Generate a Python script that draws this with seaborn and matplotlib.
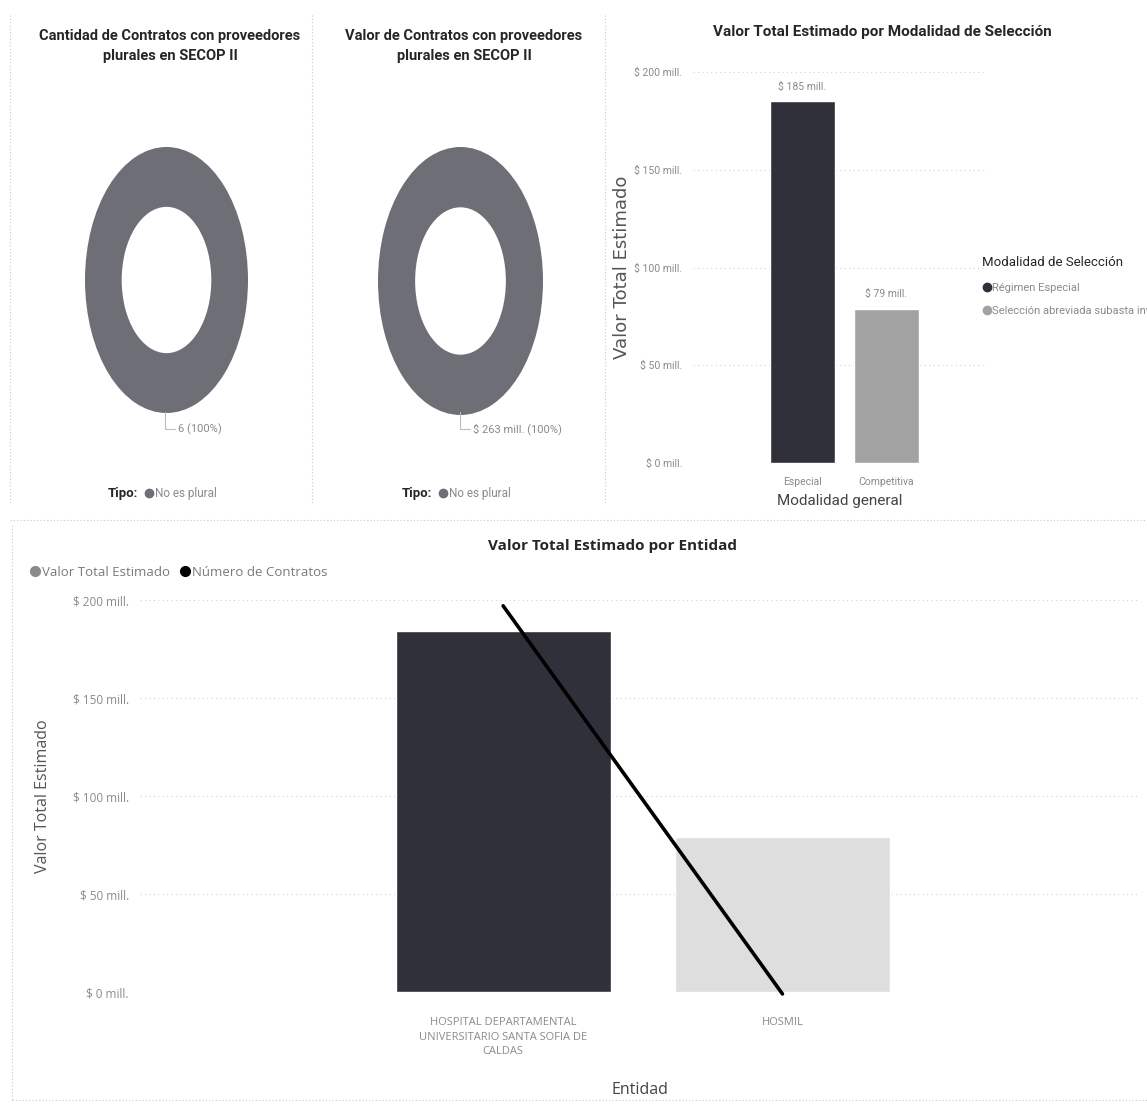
import matplotlib
matplotlib.use('Agg')
import matplotlib.pyplot as plt
import seaborn as sns
import pandas as pd
import numpy as np
import textwrap
from matplotlib.lines import Line2D
from matplotlib.ticker import FuncFormatter

# ---- data ----
tipo = ['No es plural']
cantidad_contratos = [6]
valor_contratos = [263]  # mill.

modalidad_general = ['Especial', 'Competitiva']
modalidad_seleccion = ['Régimen Especial', 'Selección abreviada subasta inversa']
valor_modalidad = [185, 79]  # mill.

entidades = ['HOSPITAL DEPARTAMENTAL UNIVERSITARIO SANTA SOFIA DE CALDAS', 'HOSMIL']
valor_entidad = [184, 79]  # mill.
numero_contratos = [5, 1]

y_ticks = [0, 50, 100, 150, 200]

# ---- style ----
sns.set_theme(style='white')
plt.rcParams['font.family'] = ['Open Sans', 'DejaVu Sans']
NARROW = ['Liberation Sans Narrow', 'Roboto', 'DejaVu Sans']

DONUT = '#6e6e77'
DARK = '#30303b'
MID = '#a2a2a2'
LIGHT = '#dedede'
TXT = '#8a8a8a'
DARKTXT = '#262626'
GRID = '#d2d2d2'

W, H = 1147, 1106
fig = plt.figure(figsize=(W / 100, H / 100), dpi=100)


def fx(x):
    return x / W


def fy(y):
    return 1 - y / H


def px_axes(x0, y0, x1, y1):
    return fig.add_axes([fx(x0), fy(y1), (x1 - x0) / W, (y1 - y0) / H])


def sep(x0, y0, x1, y1):
    fig.add_artist(Line2D([fx(x0), fx(x1)], [fy(y0), fy(y1)], transform=fig.transFigure,
                          color='#c8c8c8', lw=0.8, linestyle=(0, (1, 2))))


mill = FuncFormatter(lambda v, p: f'$ {v:.0f} mill.')

# panel separators
sep(10, 15, 10, 505)
sep(312, 15, 312, 505)
sep(605, 15, 605, 505)
sep(10, 520, 1147, 520)
sep(12, 525, 12, 1100)
sep(12, 1100, 1147, 1100)

# ---- donuts ----
donuts = [
    ((85, 147, 248, 413), cantidad_contratos, 'Cantidad de Contratos con proveedores\nplurales en SECOP II',
     170, [f'{v} (100%)' for v in cantidad_contratos], (165, 178)),
    ((378, 147, 543, 415), valor_contratos, 'Valor de Contratos con proveedores\nplurales en SECOP II',
     464, [f'$ {v} mill. (100%)' for v in valor_contratos], (460, 473)),
]
for box, vals, title, cx, labels, (lx, tx) in donuts:
    ax = px_axes(*box)
    ax.pie(vals, colors=[DONUT], startangle=90, counterclock=False,
           wedgeprops=dict(width=0.45, edgecolor='none'))
    ax.set_aspect('auto')
    ax.set_xlim(-1, 1)
    ax.set_ylim(-1, 1)
    fig.text(fx(cx), fy(46), title, ha='center', va='center', family=NARROW,
             fontsize=10.5, fontweight='bold', color=DARKTXT, linespacing=1.5)
    fig.add_artist(Line2D([fx(lx), fx(lx), fx(tx - 3)], [fy(412), fy(429), fy(429)],
                          transform=fig.transFigure, color='#bdbdbd', lw=0.8))
    fig.text(fx(tx), fy(429), labels[0], ha='left', va='center', family=NARROW,
             fontsize=8, color=TXT)
    fig.text(fx(cx - 62), fy(494), 'Tipo:', ha='left', va='center', family=NARROW,
             fontsize=9.5, fontweight='bold', color=DARKTXT)
    fig.legend(handles=[Line2D([], [], marker='o', ls='', color=DONUT, markersize=6)],
               labels=tipo, loc='center left', bbox_to_anchor=(fx(cx - 30), fy(494)),
               frameon=False, handletextpad=0.1, borderaxespad=0, handlelength=0.8,
               prop=dict(family=NARROW, size=8.5), labelcolor=TXT)

# ---- bar chart by modalidad ----
ax = px_axes(693, 72, 987, 463)
df_mod = pd.DataFrame({'Modalidad general': modalidad_general, 'Valor': valor_modalidad,
                       'Modalidad de Selección': modalidad_seleccion})
sns.barplot(data=df_mod, x='Modalidad general', y='Valor', hue='Modalidad de Selección',
            palette=[DARK, MID], dodge=False, width=0.77, saturation=1, legend=False, ax=ax)
for cont in ax.containers:
    ax.bar_label(cont, labels=[f'$ {v:.0f} mill.' for v in cont.datavalues], padding=7,
                 family=NARROW, fontsize=7.5, color=TXT)
ax.set_xlim(-1.3, 2.2)
ax.set_ylim(0, 200)
ax.set_yticks(y_ticks)
ax.yaxis.set_major_formatter(mill)
ax.yaxis.grid(True, color=GRID, lw=0.8, linestyle=(0, (1, 3)))
ax.set_axisbelow(True)
sns.despine(ax=ax, left=True, bottom=True)
ax.tick_params(length=0, labelsize=7.5, labelcolor=TXT, pad=8)
ax.tick_params(axis='x', pad=10)
for t in ax.get_xticklabels() + ax.get_yticklabels():
    t.set_family(NARROW)
ax.set_xlabel('Modalidad general', family=NARROW, fontsize=11, color='#444444', labelpad=5)
ax.set_ylabel('Valor Total Estimado', family='DejaVu Sans', fontsize=13, color='#555555', labelpad=2)
fig.text(fx(882), fy(32), 'Valor Total Estimado por Modalidad de Selección', ha='center', va='center',
         family=NARROW, fontsize=11, fontweight='bold', color=DARKTXT)
fig.legend(handles=[Line2D([], [], marker='o', ls='', color=c, markersize=6) for c in [DARK, MID]],
           labels=modalidad_seleccion, title='Modalidad de Selección', loc='upper left',
           bbox_to_anchor=(fx(978), fy(252)), frameon=False, alignment='left',
           handletextpad=0.1, handlelength=0.8, labelspacing=1.2, borderaxespad=0,
           prop=dict(family=NARROW, size=8), labelcolor=TXT,
           title_fontproperties=dict(family=NARROW, size=9.5))
fig.legends[-1].get_title().set_color(DARKTXT)

# ---- bar + line by entidad ----
ax = px_axes(140, 600, 1140, 992)
df_ent = pd.DataFrame({'Entidad': entidades, 'Valor': valor_entidad})
sns.barplot(data=df_ent, x='Entidad', y='Valor', hue='Entidad', palette=[DARK, LIGHT],
            width=0.77, saturation=1, legend=False, ax=ax)
ax.set_xlim(-1.3, 2.28)
ax.set_ylim(0, 200)
ax.set_yticks(y_ticks)
ax.yaxis.set_major_formatter(mill)
ax.yaxis.grid(True, color=GRID, lw=0.8, linestyle=(0, (1, 3)))
ax.set_axisbelow(True)
sns.despine(ax=ax, left=True, bottom=True)
ax.set_xticks(range(len(entidades)))
ax.set_xticklabels([textwrap.fill(e, 28) for e in entidades], linespacing=1.45)
ax.tick_params(length=0, labelsize=8.5, labelcolor=TXT, pad=8)
ax.tick_params(axis='x', labelsize=8, pad=18)
ax.set_xlabel('Entidad', fontsize=11.5, color='#444444', labelpad=18)
ax.set_ylabel('Valor Total Estimado', fontsize=11.5, color='#555555', labelpad=16)

ax2 = ax.twinx()
sns.lineplot(x=np.arange(len(entidades)), y=numero_contratos, color='black', lw=2.6, ax=ax2)
for ln in ax2.lines:
    ln.set_clip_on(False)
ax2.set_ylim(1.02, 5.06)
ax2.set_yticks([])
ax2.set_ylabel('')
sns.despine(ax=ax2, left=True, bottom=True, right=True)

fig.text(fx(612), fy(546), 'Valor Total Estimado por Entidad', ha='center', va='center',
         fontsize=11, fontweight='bold', color=DARKTXT)
fig.legend(handles=[Line2D([], [], marker='o', ls='', color='#8a8a8a', markersize=7),
                    Line2D([], [], marker='o', ls='', color='black', markersize=7)],
           labels=['Valor Total Estimado', 'Número de Contratos'], ncol=2,
           loc='center left', bbox_to_anchor=(fx(24), fy(572)), frameon=False,
           handletextpad=0.05, handlelength=0.9, columnspacing=0.7, borderaxespad=0,
           prop=dict(size=9.5), labelcolor='#7a7a7a')

fig.savefig('out.png', dpi=100, facecolor='white')
